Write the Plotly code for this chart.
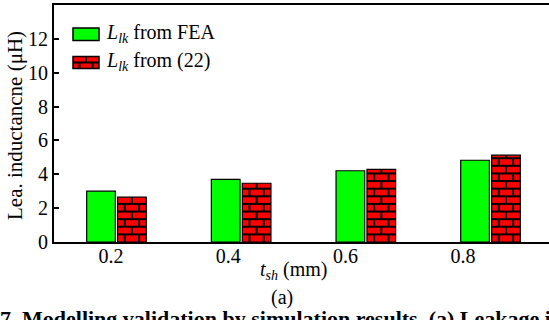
import plotly.graph_objects as go

# Shield thickness (mm) and leakage inductance (uH)
t_sh = [0.2, 0.4, 0.6, 0.8]
t_sh_labels = ["0.2", "0.4", "0.6", "0.8"]
L_fea = [3.0, 3.7, 4.21, 4.83]
L_eq22 = [2.65, 3.47, 4.29, 5.13]
y_ticks = [0, 2, 4, 6, 8, 10, 12]

W, H = 549, 320
ML, MR, MT, MB = 54, 0, 5, 78
PW = W - ML - MR
PH = H - MT - MB


def fx(px):
    """pixel column -> paper x"""
    return (px - ML) / PW


def fy(py):
    """pixel row -> paper y"""
    return (H - MB - py) / PH


FONT = "Liberation Serif"
GREEN = "#00ff00"
RED = "#ff0000"

BAR_W = 0.23
OFF_FEA = -0.238
OFF_EQ = 0.01
ROW_H = 0.45  # height of one brick course, in uH

fig = go.Figure()
fig.add_trace(go.Bar(
    x=t_sh_labels, y=L_fea, width=BAR_W, offset=OFF_FEA,
    marker=dict(color=GREEN, line=dict(color="black", width=1.2)),
    showlegend=False, name="FEA",
))
fig.add_trace(go.Bar(
    x=t_sh_labels, y=L_eq22, width=BAR_W, offset=OFF_EQ,
    marker=dict(color=RED, line=dict(color="black", width=1.2)),
    showlegend=False, name="(22)",
))
# carrier for the tick-label axis
fig.add_trace(go.Scatter(
    x=t_sh, y=L_fea, xaxis="x2", mode="markers",
    marker=dict(opacity=0), hoverinfo="skip", showlegend=False,
))

shapes = []


def mortar(x0, x1, y0, y1, xref, yref, w=2):
    shapes.append(dict(type="line", x0=x0, x1=x1, y0=y0, y1=y1,
                       xref=xref, yref=yref, layer="above",
                       line=dict(color="black", width=w)))


# brick mortar over the (22) bars
for i, top in enumerate(L_eq22):
    left = i + OFF_EQ
    right = left + BAR_W
    q = BAR_W / 4
    k = 0
    while k * ROW_H < top - 0.08:
        y0 = k * ROW_H
        y1 = min((k + 1) * ROW_H, top)
        if k > 0:
            mortar(left, right, y0, y0, "x", "y")
        joints = [left + q, left + 3 * q] if k % 2 == 0 else [left + 2 * q]
        for xj in joints:
            mortar(xj, xj, y0, y1, "x", "y")
        k += 1

# legend keys
lx0, lx1 = fx(73), fx(99)
shapes.append(dict(type="rect", xref="paper", yref="paper",
                   x0=lx0, x1=lx1, y0=fy(40.5), y1=fy(28),
                   fillcolor=GREEN, line=dict(color="black", width=1.5)))
shapes.append(dict(type="rect", xref="paper", yref="paper",
                   x0=lx0, x1=lx1, y0=fy(68.5), y1=fy(56.5),
                   fillcolor=RED, line=dict(color="black", width=1.5)))
kq = (lx1 - lx0) / 4
mortar(lx0, lx1, fy(62.5), fy(62.5), "paper", "paper")
mortar(lx0 + 2 * kq, lx0 + 2 * kq, fy(56.5), fy(62.5), "paper", "paper")
for xj in (lx0 + kq, lx0 + 3 * kq):
    mortar(xj, xj, fy(62.5), fy(68.5), "paper", "paper")

tf = dict(family=FONT, size=20, color="black")
annotations = [
    dict(text="<i>L</i><sub><i>lk</i></sub> from FEA", x=fx(104), y=fy(34),
         xanchor="left", yanchor="middle"),
    dict(text="<i>L</i><sub><i>lk</i></sub> from (22)", x=fx(104), y=fy(62),
         xanchor="left", yanchor="middle"),
    dict(text="Lea. inductancne (\u03bcH)", x=fx(15), y=fy(126),
         textangle=-90, xanchor="center", yanchor="middle",
         font=dict(family=FONT, size=21, color="black")),
    dict(text="<i>t</i><sub><i>sh</i></sub> (mm)", x=fx(293), y=fy(270),
         xanchor="center", yanchor="middle"),
    dict(text="(a)", x=fx(282), y=fy(297), xanchor="center", yanchor="middle"),
    dict(text="<b>7. Modelling validation by simulation results. (a) Leakage inductance</b>",
         x=fx(-2), y=fy(318), xanchor="left", yanchor="middle",
         font=dict(family=FONT, size=22, color="black")),
]
for a in annotations:
    a.setdefault("font", tf)
    a.update(xref="paper", yref="paper", showarrow=False)

fig.update_layout(
    width=W, height=H,
    margin=dict(l=ML, r=MR, t=MT, b=MB, pad=0),
    paper_bgcolor="white", plot_bgcolor="white",
    barmode="overlay",
    font=tf,
    shapes=shapes,
    annotations=annotations,
    xaxis=dict(type="category", range=[-0.5, 3.47], showline=True, linewidth=2,
               linecolor="black", mirror=True, ticks="", showticklabels=False,
               showgrid=False, zeroline=False, fixedrange=True),
    xaxis2=dict(overlaying="x", anchor="y", side="bottom",
                range=[0.1028, 0.9468], tickmode="array", tickvals=t_sh,
                ticktext=t_sh_labels, showline=False, showgrid=False,
                zeroline=False, ticks="", tickfont=tf),
    yaxis=dict(range=[0, 14], tickmode="array", tickvals=y_ticks,
               ticks="inside", ticklen=5, tickwidth=1.5, tickcolor="black",
               showline=True, linewidth=2, linecolor="black", mirror=False,
               showgrid=False, zeroline=False, tickfont=tf),
)

fig.write_html("out.html")
